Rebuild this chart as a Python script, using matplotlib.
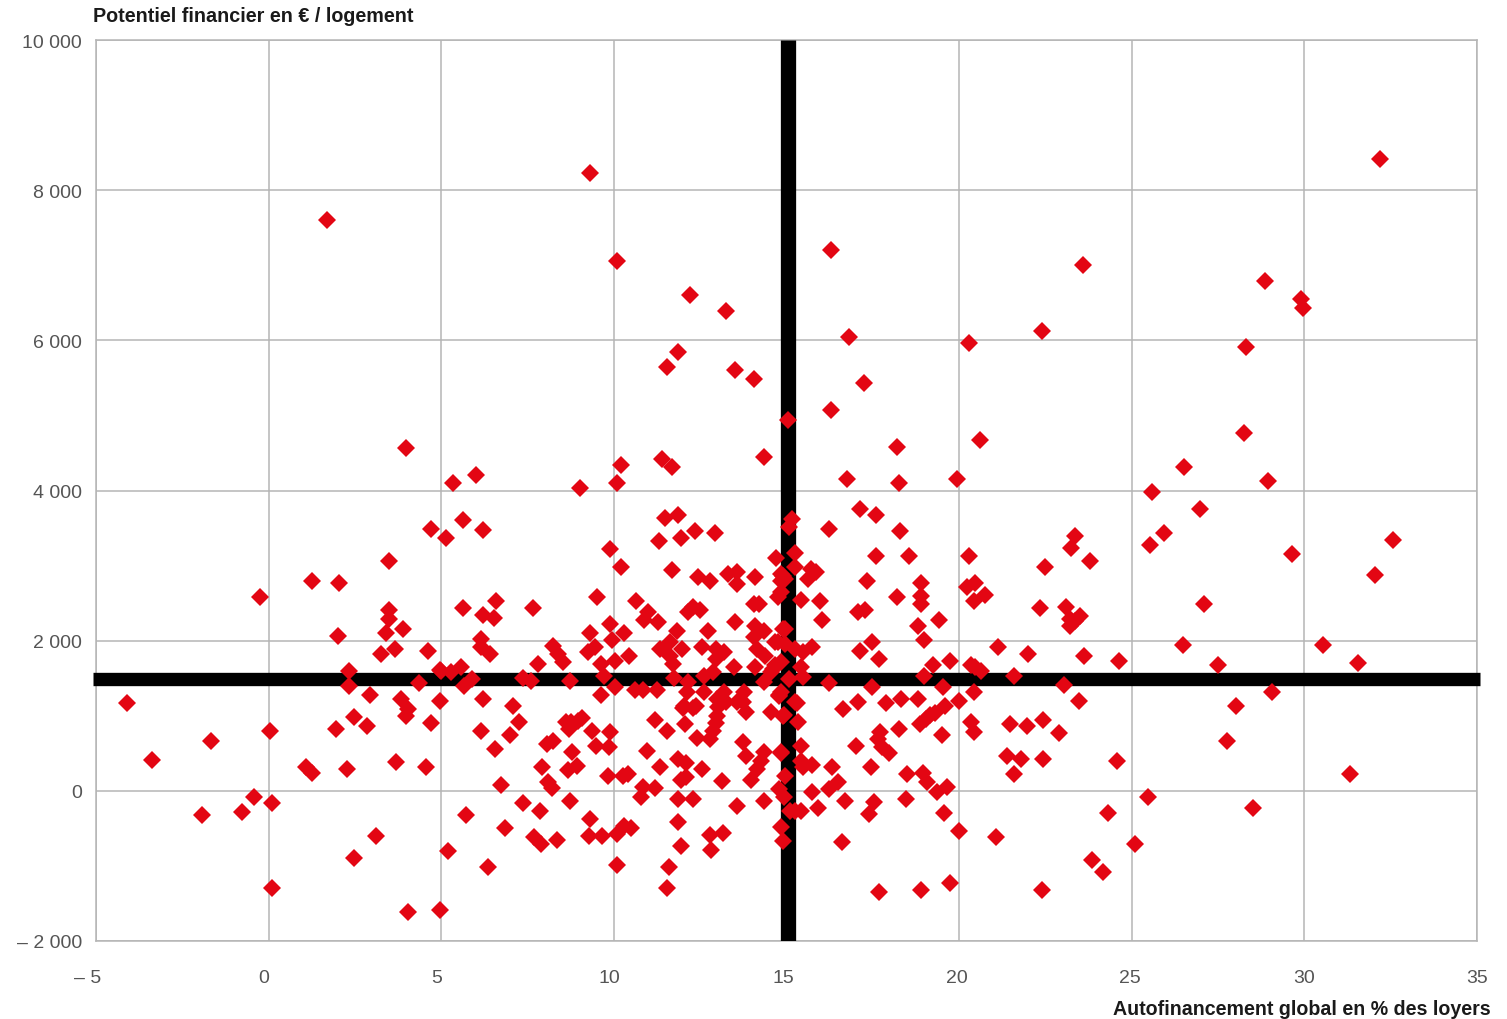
import matplotlib
matplotlib.use("Agg")
import matplotlib.pyplot as plt
from matplotlib.transforms import ScaledTranslation

plt.rcParams['font.family'] = ['Liberation Sans', 'DejaVu Sans']

# communes: (autofinancement %, potentiel EUR / logement)
high_points = [
    (1.68, 7600), (9.3, 8235), (32.2, 8420), (10.08, 7050), (12.2, 6600), (13.25, 6390), (16.3, 7200),
    (23.6, 7000), (28.85, 6790), (29.9, 6550), (29.95, 6430), (22.4, 6120), (20.3, 5970), (16.8, 6050),
    (28.3, 5910), (11.85, 5850), (11.55, 5640), (13.5, 5600), (14.05, 5480), (17.25, 5430), (16.3, 5070),
    (15.03, 4940), (3.97, 4570), (20.6, 4670), (18.2, 4580), (28.25, 4760), (14.35, 4440), (11.4, 4420),
    (11.67, 4310), (10.2, 4340), (6.0, 4210), (5.35, 4100), (10.08, 4100), (9.03, 4030), (16.75, 4150),
    (18.25, 4100), (19.95, 4150), (26.5, 4310), (28.95, 4120), (25.6, 3980),
]
left_upper = [
    (4.7, 3485), (5.15, 3365), (3.5, 3060), (1.27, 2790), (2.05, 2765), (-0.26, 2580), (3.5, 2405),
    (3.5, 2285), (3.9, 2155), (3.4, 2100), (2.0, 2060), (3.25, 1820), (3.65, 1885), (4.63, 1860),
    (2.32, 1590), (2.32, 1395), (4.95, 1605), (4.37, 1430), (2.93, 1275), (3.82, 1220), (4.95, 1190),
    (-4.1, 1165), (4.03, 1085), (3.97, 1000),
]
left_lower = [
    (2.46, 980), (1.94, 820), (2.84, 860), (4.7, 910), (0.03, 795), (-1.68, 670), (-3.39, 405),
    (3.7, 380), (4.55, 315), (2.26, 290), (1.07, 315), (1.27, 235), (-0.43, -85), (0.09, -165),
    (-0.78, -285), (-1.94, -325), (3.1, -595), (2.46, -900), (0.09, -1295), (4.03, -1620), (4.95, -1590),
    (5.2, -805), (5.73, -325), (6.34, -1020), (6.86, -500), (6.14, 795), (6.55, 555), (6.72, 75),
    (6.98, 740), (7.24, 915), (7.07, 1125), (7.38, -165), (7.85, -270), (7.7, -620), (7.9, -710), (8.34, -655),
]
mid_upper = [
    (5.62, 3605), (6.2, 3480), (11.47, 3640), (11.87, 3670), (11.32, 3325), (11.93, 3365), (12.34, 3455),
    (12.92, 3430), (9.9, 3215), (10.22, 2980), (11.67, 2940), (12.45, 2845), (12.77, 2790), (13.3, 2885),
    (13.58, 2910), (13.58, 2750), (14.1, 2845), (14.71, 3095), (14.83, 2885), (14.83, 2790), (14.83, 2645),
    (14.74, 2575), (5.62, 2430), (6.2, 2340), (6.6, 2525), (6.52, 2300), (7.65, 2430), (9.5, 2580),
    (10.63, 2525), (11.0, 2380), (10.86, 2275), (11.27, 2245), (12.3, 2445), (12.5, 2405), (12.16, 2380),
    (13.52, 2245), (14.05, 2485), (14.19, 2485), (14.1, 2195), (14.34, 2125), (14.05, 2045), (14.74, 1980),
    (14.9, 2155), (12.74, 2125), (9.9, 2220), (9.3, 2100), (10.28, 2100), (9.96, 2005), (6.14, 2020),
    (6.14, 1910), (6.4, 1820), (8.25, 1930), (8.37, 1820), (8.54, 1715), (7.79, 1685), (9.44, 1910),
    (9.24, 1845), (9.64, 1685), (10.02, 1725), (10.43, 1790), (9.7, 1525), (11.35, 1885), (11.64, 1980),
    (11.82, 2125), (11.96, 1885), (11.64, 1790), (11.7, 1685), (12.54, 1910), (12.95, 1885), (13.18, 1845),
    (12.97, 1750), (13.47, 1645), (14.1, 1645), (14.16, 1885), (14.39, 1790), (14.62, 1620), (14.34, 1450),
    (14.83, 1310), (12.86, 1580), (12.6, 1525), (11.73, 1500), (12.16, 1450), (5.27, 1580), (5.56, 1645),
    (4.98, 1595), (5.9, 1485), (5.65, 1395), (7.38, 1500), (7.6, 1460), (8.72, 1460), (9.64, 1275),
    (10.02, 1380), (10.6, 1340), (10.83, 1340), (11.24, 1340), (6.2, 1220), (12.13, 1310), (12.6, 1310),
    (13.18, 1310), (13.76, 1310), (13.0, 1220), (12.02, 1125), (12.37, 1125), (13.24, 1180), (13.73, 1180),
    (14.77, 1260),
]
mid_lower = [
    (8.75, 915), (8.95, 930), (9.07, 965), (8.6, 915), (8.69, 820), (9.38, 795), (9.9, 780), (8.25, 670),
    (8.05, 625), (8.78, 515), (9.47, 595), (9.85, 580), (7.93, 315), (8.66, 275), (8.92, 330), (9.82, 195),
    (10.25, 195), (10.4, 225), (8.08, 115), (8.22, 35), (8.72, -135), (9.3, -380), (9.27, -600), (9.67, -600),
    (10.1, -580), (10.28, -470), (10.5, -500), (10.08, -990), (11.2, 940), (11.55, 795), (12.05, 885),
    (12.42, 700), (10.95, 525), (11.35, 315), (11.85, 420), (12.08, 365), (12.54, 285), (12.08, 180),
    (11.93, 140), (13.12, 125), (10.83, 50), (11.2, 35), (10.8, -85), (11.85, -110), (12.28, -110),
    (13.58, -200), (14.34, -135), (11.87, -415), (11.93, -735), (12.77, -590), (13.15, -560), (12.8, -790),
    (11.61, -1015), (11.55, -1295), (12.3, 1100), (11.99, 1100), (13.03, 1110), (13.0, 995), (12.95, 910),
    (12.86, 795), (12.77, 690), (13.73, 650), (13.84, 460), (14.34, 515), (14.25, 395), (14.16, 290),
    (13.96, 140), (13.58, 1180), (13.84, 1045), (14.54, 1045), (14.89, 995), (14.83, 515), (14.97, 195),
    (14.77, 20), (14.92, -85), (14.83, -480), (14.89, -670), (15.1, -270),
]
right_upper = [
    (15.15, 3615), (15.06, 3510), (16.22, 3485), (17.12, 3760), (17.6, 3670), (18.3, 3455), (17.6, 3125),
    (18.56, 3125), (15.26, 3165), (15.26, 2980), (15.7, 2950), (15.84, 2910), (15.61, 2820), (14.89, 2860),
    (14.97, 2820), (15.41, 2540), (15.96, 2525), (16.02, 2275), (17.32, 2790), (18.19, 2580), (18.91, 2765),
    (18.91, 2590), (18.91, 2485), (19.43, 2275), (18.82, 2195), (17.06, 2380), (17.26, 2405), (18.97, 2005),
    (20.3, 3125), (20.24, 2710), (20.47, 2765), (20.74, 2605), (20.42, 2525), (22.5, 2980), (23.37, 3395),
    (23.25, 3230), (23.78, 3060), (22.33, 2430), (23.1, 2445), (23.2, 2285), (23.5, 2325), (23.37, 2260),
    (23.2, 2195), (14.97, 2155), (14.68, 1980), (14.97, 1950), (15.26, 1885), (15.47, 1845), (15.75, 1910),
    (17.14, 1860), (17.49, 1980), (17.67, 1750), (19.23, 1670), (19.75, 1725), (18.97, 1525), (19.52, 1380),
    (20.0, 1190), (20.42, 1310), (20.33, 1670), (20.62, 1590), (20.47, 1645), (21.14, 1910), (22.0, 1820),
    (21.58, 1525), (23.63, 1790), (23.05, 1405), (23.46, 1190), (24.62, 1725), (16.22, 1430), (17.49, 1380),
    (15.06, 1485), (15.47, 1510), (14.77, 1275), (14.68, 1670), (14.83, 1710), (14.54, 1580), (15.41, 1645),
    (15.26, 1180), (17.06, 1180), (16.65, 1085), (17.87, 1165), (18.33, 1220), (18.8, 1220), (19.6, 1125),
]
right_lower = [
    (15.29, 1165), (14.92, 1010), (15.32, 915), (20.33, 915), (20.42, 780), (21.46, 885), (21.98, 860),
    (22.42, 940), (22.9, 770), (18.25, 820), (19.17, 1005), (19.03, 955), (18.88, 885), (19.3, 1030),
    (19.5, 740), (17.7, 780), (17.64, 690), (17.0, 595), (17.78, 580), (17.98, 500), (15.41, 595),
    (14.83, 500), (15.41, 395), (15.75, 340), (15.47, 315), (16.33, 315), (17.46, 315), (18.5, 225),
    (18.94, 235), (19.08, 115), (19.35, -15), (19.64, 50), (16.48, 115), (16.22, 20), (15.75, -15),
    (16.68, -135), (15.9, -230), (15.41, -270), (15.26, -270), (18.45, -110), (17.52, -150), (17.38, -310),
    (19.55, -295), (20.0, -535), (21.08, -615), (16.6, -685), (23.86, -925), (24.18, -1080), (24.3, -295),
    (24.58, 395), (21.4, 460), (21.8, 430), (22.44, 430), (21.6, 225), (17.67, -1350), (18.91, -1325),
    (19.75, -1230), (22.39, -1325),
]
far_right = [
    (25.48, -85), (25.08, -710), (27.77, 670), (28.03, 1125), (27.5, 1670), (26.47, 1940), (27.1, 2485),
    (25.54, 3280), (25.92, 3430), (26.99, 3750), (29.63, 3150), (32.58, 3335), (32.06, 2880), (30.55, 1940),
    (31.54, 1700), (29.05, 1310), (31.33, 220), (28.5, -230),
]

x_ticks = [-5, 0, 5, 10, 15, 20, 25, 30, 35]
x_labels = ['– 5', '0', '5', '10', '15', '20', '25', '30', '35']
y_ticks = [-2000, 0, 2000, 4000, 6000, 8000, 10000]
y_labels = ['– 2 000', '0', '2 000', '4 000', '6 000', '8 000', '10 000']
# small shifts of the x labels against the grid, in pixels
x_label_shift = [-8, -5, -5, -4, -3, -2, -2, 0, 0]

mean_x = 15.03
mean_y = 1490

points = high_points + left_upper + left_lower + mid_upper + mid_lower + right_upper + right_lower + far_right
xs = [p[0] for p in points]
ys = [p[1] for p in points]

fig = plt.figure(figsize=(15.07, 10.2), dpi=100)
ax = fig.add_axes([96 / 1507, 1 - 942 / 1020, (1477 - 96) / 1507, (942 - 41) / 1020])
ax.set_xlim(-5, 35)
ax.set_ylim(-2000, 10000)

ax.set_xticks(x_ticks, x_labels)
ax.set_yticks(y_ticks, y_labels)
ax.tick_params(length=0, labelsize=14, labelcolor='#555555')
ax.tick_params(axis='x', pad=20)
ax.tick_params(axis='y', pad=10)
for lab, dx in zip(ax.get_xticklabels(), x_label_shift):
    lab.set_transform(lab.get_transform() + ScaledTranslation(dx / 100, 0, fig.dpi_scale_trans))

ax.grid(True, color='#b5b5b5', linewidth=1.1)
ax.set_axisbelow(True)
for spine in ax.spines.values():
    spine.set_color('#b5b5b5')
    spine.set_linewidth(1.1)

# the two average lines, horizontal one runs a bit past the frame
ax.plot([-5.1, 35.08], [mean_y, mean_y], color='black', lw=9.6, solid_capstyle='butt', clip_on=False, zorder=3)
ax.plot([mean_x, mean_x], [-2000, 10000], color='black', lw=11, solid_capstyle='butt', zorder=3)

ax.plot(xs, ys, linestyle='none', marker='D', markersize=9.6, markeredgewidth=0, color='#e30613', zorder=4)

fig.text(93 / 1507, 1 - 17 / 1020, 'Potentiel financier en € / logement', fontsize=14.2, fontweight='bold',
         color='#1a1a1a', ha='left', va='center')
fig.text(1491 / 1507, 1 - 1010 / 1020, 'Autofinancement global en % des loyers', fontsize=14.15, fontweight='bold',
         color='#1a1a1a', ha='right', va='center')

plt.savefig('out.png', dpi=100)
